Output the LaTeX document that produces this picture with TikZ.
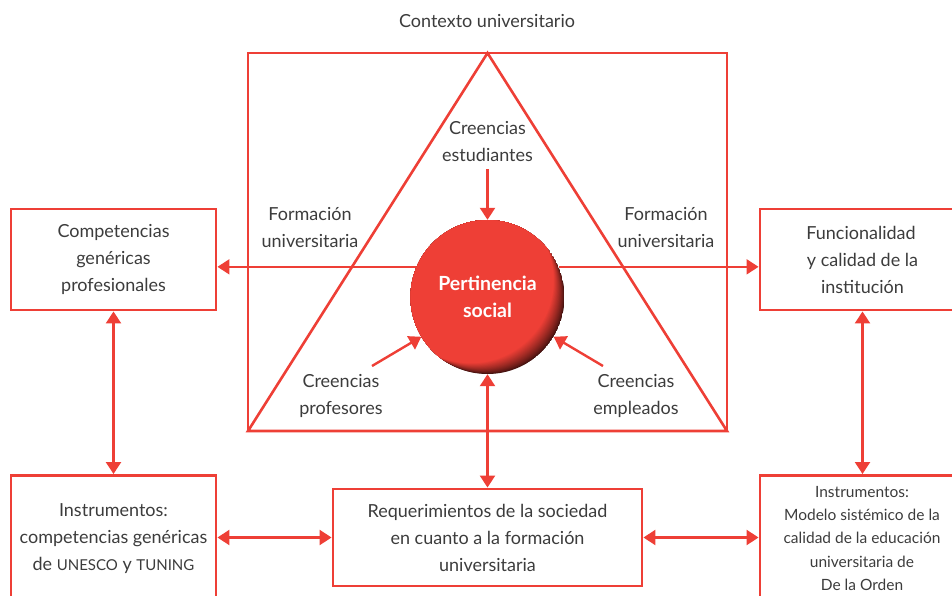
\documentclass[tikz,border=0pt]{standalone}
\usepackage{fontspec}
\setmainfont{Lato}
\usetikzlibrary{arrows.meta,calc}
\definecolor{myred}{HTML}{EE3F36}
\definecolor{txt}{HTML}{3C3C3C}
\tikzset{
  box/.style={draw=myred, line width=2.9pt, align=center, text=txt, inner sep=0pt,
    font=\fontsize{18}{27}\selectfont},
  lbl/.style={align=center, text=txt, inner sep=0pt, font=\fontsize{18}{27}\selectfont},
  arr/.style={draw=myred, line width=2.4pt, -{Triangle[length=12pt,width=15pt]}},
  darr/.style={draw=myred, line width=2.4pt, {Triangle[length=12pt,width=15pt]}-{Triangle[length=12pt,width=15pt]}},
  frame/.style={draw=myred, line width=2.6pt, line join=miter}
}
\begin{document}
\begin{tikzpicture}[x=1pt,y=-1pt]
\useasboundingbox (0,0) rectangle (952,596);
% context frame and triangle
\node[lbl] (ctx) at (487,21) {Contexto universitario};
\coordinate (fa) at (248,53);
\coordinate (fb) at (727,53);
\coordinate (fc) at (727,431);
\coordinate (fd) at (248,431);
\coordinate (apex) at (487.5,53);
\draw[frame] (fa) rectangle (fc);
\draw[frame] (apex) -- (fd) -- (fc) -- cycle;
% central sphere
\node[circle, minimum size=154pt, inner sep=0pt] (c) at (487.5,297) {};
\begin{scope}
  \clip (c.center) circle (77);
  \foreach \i in {0,...,22}{
    \pgfmathsetmacro\p{28+72*(\i/22)^0.8}
    \fill[myred!\p!black] ($(c.center)+(-0.75*\i,-0.75*\i)$) circle ({77+0.26*\i});
  }
\end{scope}
\node[align=center, text=white, font=\fontsize{19.5}{27}\bfseries\selectfont] (ct) at (c.center) {Pertinencia\\social};
% top boxes
\node[box, minimum width=205pt, minimum height=101pt] (lb) at (113.5,259.5) {Competencias\\genéricas\\profesionales};
\node[box, minimum width=205pt, minimum height=101pt] (rb) at (862.5,259.5) {\hspace*{-3pt}Funcionalidad\\y calidad de la\\institución};
% bottom boxes
\node[box, minimum width=205pt, minimum height=140pt, anchor=north] (blb) at (113.5,474) {};
\node[lbl] (blt) at (113.5,539) {Instrumentos:\\competencias genéricas\\de {\fontsize{15}{27}\selectfont UNESCO} y {\fontsize{15}{27}\selectfont TUNING}};
\node[box, minimum width=205pt, minimum height=140pt, anchor=north] (brb) at (862.5,474) {};
\node[lbl, font=\fontsize{15.5}{23.4}\selectfont] (brt) at (862,538.5) {Instrumentos:\\Modelo sistémico de la\\calidad de la educación\\universitaria de\\De la Orden};
\node[box, minimum width=309pt, minimum height=97pt] (bc) at (487.5,537.5) {Requerimientos de la sociedad\\en cuanto a la formación\\universitaria};
% labels inside triangle
\node[lbl] (fl) at (310,228) {Formación\\universitaria};
\node[lbl] (fr) at (666,228) {Formación\\universitaria};
\node[lbl] (ce) at (487.5,142) {Creencias\\estudiantes};
\node[lbl] (cp) at (341,396) {Creencias\\profesores};
\node[lbl] (cm) at (636,396) {Creencias\\empleados};
% connectors
\draw[arr, line width=2pt] (c.157) -- (c.157 -| lb.east);
\draw[arr, line width=2pt] (c.23) -- (c.23 -| rb.west);
\draw[arr] (ce.south) ++(0,7) coordinate (cet) -- (c.north);
\coordinate (cpt) at (372,366);
\coordinate (cmt) at (603,366);
\draw[arr] (cpt) -- (c.211);
\draw[arr] (cmt) -- (c.329);
\draw[darr] (c.south) -- (bc.north);
\draw[darr] (lb.south) -- (blb.north);
\draw[darr] (rb.south) -- (brb.north);
\draw[darr] (blb.east |- bc.west) -- (bc.west);
\draw[darr] (bc.east) -- (brb.west |- bc.east);
\end{tikzpicture}
\end{document}
